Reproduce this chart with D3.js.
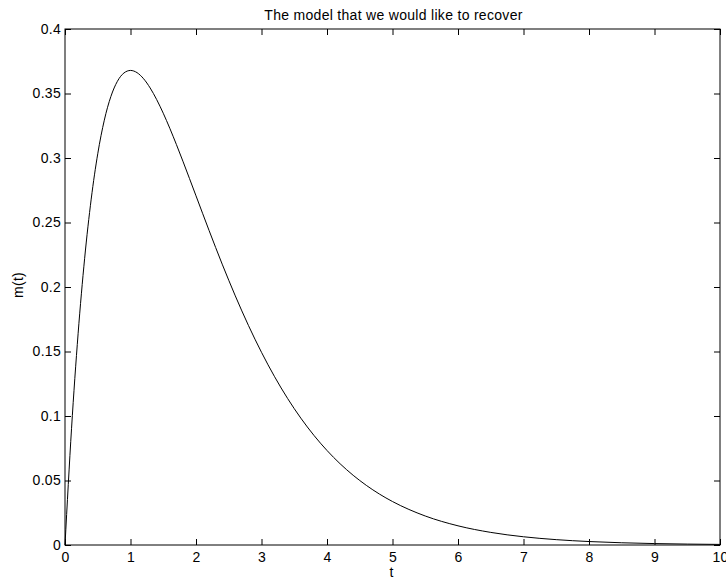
<!DOCTYPE html>
<html>
<head>
<meta charset="utf-8">
<script src="https://cdn.jsdelivr.net/npm/d3@7"></script>
<style>
  html, body { margin: 0; padding: 0; background: #fff; }
  svg { display: block; font-family: "Liberation Sans", Arial, Helvetica, sans-serif; }
</style>
</head>
<body>
<svg id="chart" width="726" height="582"></svg>
<script>
// Model curve m(t), sampled along t
const tValues = [
  0, 0.1, 0.2, 0.3, 0.4, 0.5, 0.6, 0.7, 0.8, 0.9,
  1.0, 1.1, 1.2, 1.3, 1.4, 1.5, 1.6, 1.7, 1.8, 1.9,
  2.0, 2.1, 2.2, 2.3, 2.4, 2.5, 2.6, 2.7, 2.8, 2.9,
  3.0, 3.1, 3.2, 3.3, 3.4, 3.5, 3.6, 3.7, 3.8, 3.9,
  4.0, 4.1, 4.2, 4.3, 4.4, 4.5, 4.6, 4.7, 4.8, 4.9,
  5.0, 5.5, 6.0, 6.5, 7.0, 7.5, 8.0, 8.5, 9.0, 9.5, 10.0
];
const mValues = [
  0, 0.09048, 0.16375, 0.22225, 0.26813, 0.30327, 0.32929, 0.34761, 0.35946, 0.36591,
  0.36788, 0.36616, 0.36143, 0.35429, 0.34524, 0.33470, 0.32303, 0.31056, 0.29754, 0.28418,
  0.27067, 0.25716, 0.24377, 0.23060, 0.21772, 0.20521, 0.19311, 0.18146, 0.17027, 0.15957,
  0.14936, 0.13965, 0.13044, 0.12171, 0.11347, 0.10569, 0.09837, 0.09148, 0.08501, 0.07894,
  0.07326, 0.06795, 0.06298, 0.05835, 0.05402, 0.04999, 0.04624, 0.04275, 0.03950, 0.03649,
  0.03369, 0.02248, 0.01487, 0.00977, 0.00638, 0.00415, 0.00268, 0.00173, 0.00111, 0.00071, 0.00045
];
const xTicks = [0, 1, 2, 3, 4, 5, 6, 7, 8, 9, 10];
const yTicks = [0, 0.05, 0.1, 0.15, 0.2, 0.25, 0.3, 0.35, 0.4];
const yTickLabels = ["0", "0.05", "0.1", "0.15", "0.2", "0.25", "0.3", "0.35", "0.4"];

const titleText = "The model that we would like to recover";
const xLabel = "t";
const yLabel = "m(t)";

const svg = d3.select("#chart");
const plotLeft = 65, plotRight = 720, plotTop = 29, plotBottom = 545;
const tickLen = 6;

const x = d3.scaleLinear().domain([0, 10]).range([plotLeft, plotRight]);
const y = d3.scaleLinear().domain([0, 0.4]).range([plotBottom, plotTop]);

const fontSize = 14;
const spacing = "0.3px";

// Frame
svg.append("rect")
  .attr("x", plotLeft).attr("y", plotTop)
  .attr("width", plotRight - plotLeft).attr("height", plotBottom - plotTop)
  .attr("fill", "none").attr("stroke", "#000").attr("stroke-width", 1);

// Bottom axis (labels + inward ticks)
const xAxisB = d3.axisBottom(x).tickValues(xTicks).tickSize(-tickLen).tickPadding(7)
  .tickFormat(d3.format("d"));
const gxb = svg.append("g").attr("transform", `translate(0,${plotBottom})`).call(xAxisB);
// Top axis mirrored ticks
const gxt = svg.append("g").attr("transform", `translate(0,${plotTop})`)
  .call(d3.axisTop(x).tickValues(xTicks).tickSize(-tickLen).tickFormat(""));
// Left axis
const yAxisL = d3.axisLeft(y).tickValues(yTicks).tickSize(-tickLen).tickPadding(4)
  .tickFormat((d, i) => yTickLabels[i]);
const gyl = svg.append("g").attr("transform", `translate(${plotLeft},0)`).call(yAxisL);
// Right axis mirrored ticks
const gyr = svg.append("g").attr("transform", `translate(${plotRight},0)`)
  .call(d3.axisRight(y).tickValues(yTicks).tickSize(-tickLen).tickFormat(""));

[gxb, gxt, gyl, gyr].forEach(g => {
  g.select(".domain").remove();
  g.selectAll(".tick line").attr("stroke", "#000").attr("stroke-width", 1);
  g.selectAll(".tick text")
    .attr("fill", "#000")
    .attr("font-size", fontSize)
    .attr("letter-spacing", spacing)
    .attr("font-family", "'Liberation Sans', Arial, sans-serif");
});

// Curve
const pts = tValues.map((t, i) => [t, mValues[i]]);
const line = d3.line()
  .x(d => x(d[0]))
  .y(d => y(d[1]))
  .curve(d3.curveMonotoneX);
svg.append("path")
  .datum(pts)
  .attr("d", line)
  .attr("fill", "none")
  .attr("stroke", "#000")
  .attr("stroke-width", 1);

// Title and axis labels
svg.append("text")
  .attr("x", (plotLeft + plotRight) / 2 + 1).attr("y", 20)
  .attr("text-anchor", "middle")
  .attr("font-size", fontSize)
  .attr("letter-spacing", spacing)
  .text(titleText);

svg.append("text")
  .attr("x", (plotLeft + plotRight) / 2 - 1).attr("y", 577)
  .attr("text-anchor", "middle")
  .attr("font-size", fontSize)
  .text(xLabel);

svg.append("text")
  .attr("transform", `translate(23,${(plotTop + plotBottom) / 2 - 2}) rotate(-90)`)
  .attr("text-anchor", "middle")
  .attr("font-size", fontSize)
  .attr("letter-spacing", spacing)
  .text(yLabel);
</script>
</body>
</html>
